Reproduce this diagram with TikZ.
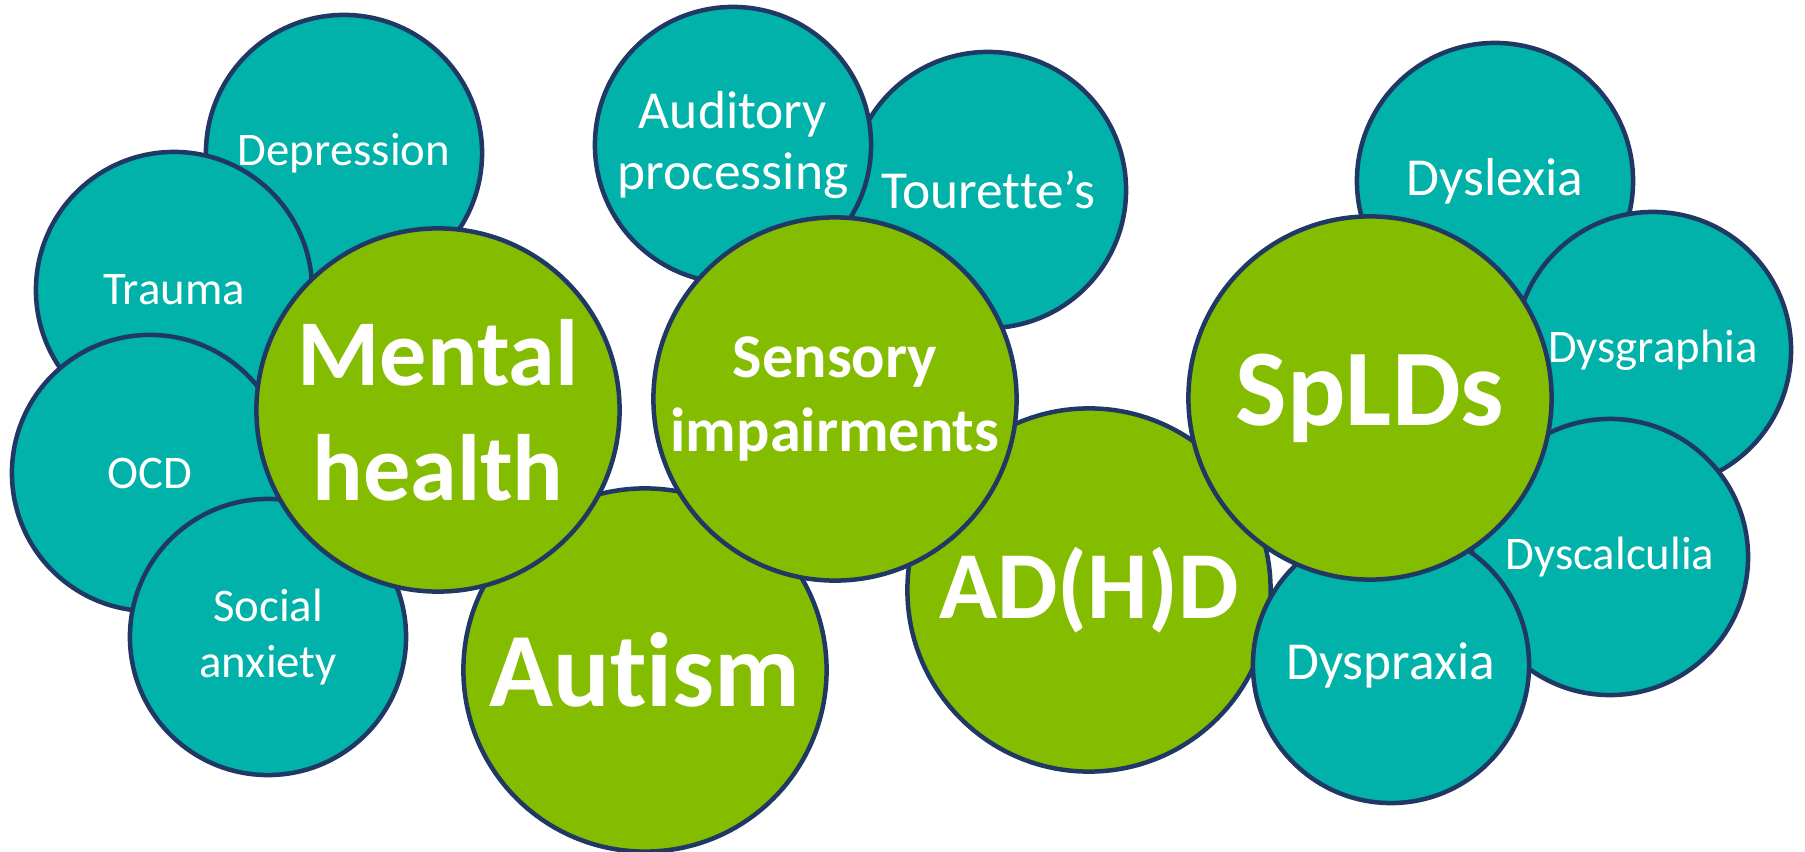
\documentclass[tikz,border=0pt]{standalone}
\usepackage{fontspec}
\setmainfont{Carlito}[Ligatures=NoCommon]
\definecolor{tealc}{HTML}{00B2A9}
\definecolor{greenc}{HTML}{84BD00}
\definecolor{edgec}{HTML}{1F3864}
\begin{document}
\begin{tikzpicture}[x=0.01cm,y=-0.01cm,
  bubble/.style={circle, draw=edgec, line width=0.045cm, inner sep=0pt, text=white, align=center},
  minor/.style={bubble, fill=tealc, minimum size=2.76cm, font=\fontsize{13.3}{16}\selectfont},
  minorL/.style={bubble, fill=tealc, minimum size=2.76cm, font=\fontsize{15.2}{17.6}\selectfont},
  major/.style={bubble, fill=greenc, minimum size=3.63cm}]
\useasboundingbox (0,0) rectangle (1805,852);
\node[minor] (dep) at (344,153) {Depression};
\node[minor] (trauma) at (174,290) {Trauma};
\node[minor] (ocd) at (150,473) {OCD};
\node[minor] (social) at (268,637) {Social\\anxiety};
\node[major, font=\fontsize{30}{36}\selectfont\bfseries] (autism) at (645,670) {Autism};
\node[major, font=\fontsize{26.8}{32.7}\selectfont\bfseries] (mental) at (438,410) {Mental\\health};
\node[minorL] (tour) at (988,190) {Tourette’s};
\node[minorL] (aud) at (733,145) {Auditory\\processing};
\node[major, font=\fontsize{27.3}{33}\selectfont\bfseries] (adhd) at (1089,590) {AD(H)D};
\node[major, font=\fontsize{17.7}{20.8}\selectfont\bfseries] (sensory) at (835,399) {Sensory\\impairments};
\node[minorL] (dyslexia) at (1495,181) {Dyslexia};
\node[minor] (dysgraphia) at (1653,350) {Dysgraphia};
\node[minor] (dyscalculia) at (1610,557) {Dyscalculia};
\node[minorL] (dyspraxia) at (1391,665) {Dyspraxia};
\node[major, font=\fontsize{31}{37}\selectfont\bfseries] (splds) at (1370,398) {SpLDs};
\end{tikzpicture}
\end{document}
